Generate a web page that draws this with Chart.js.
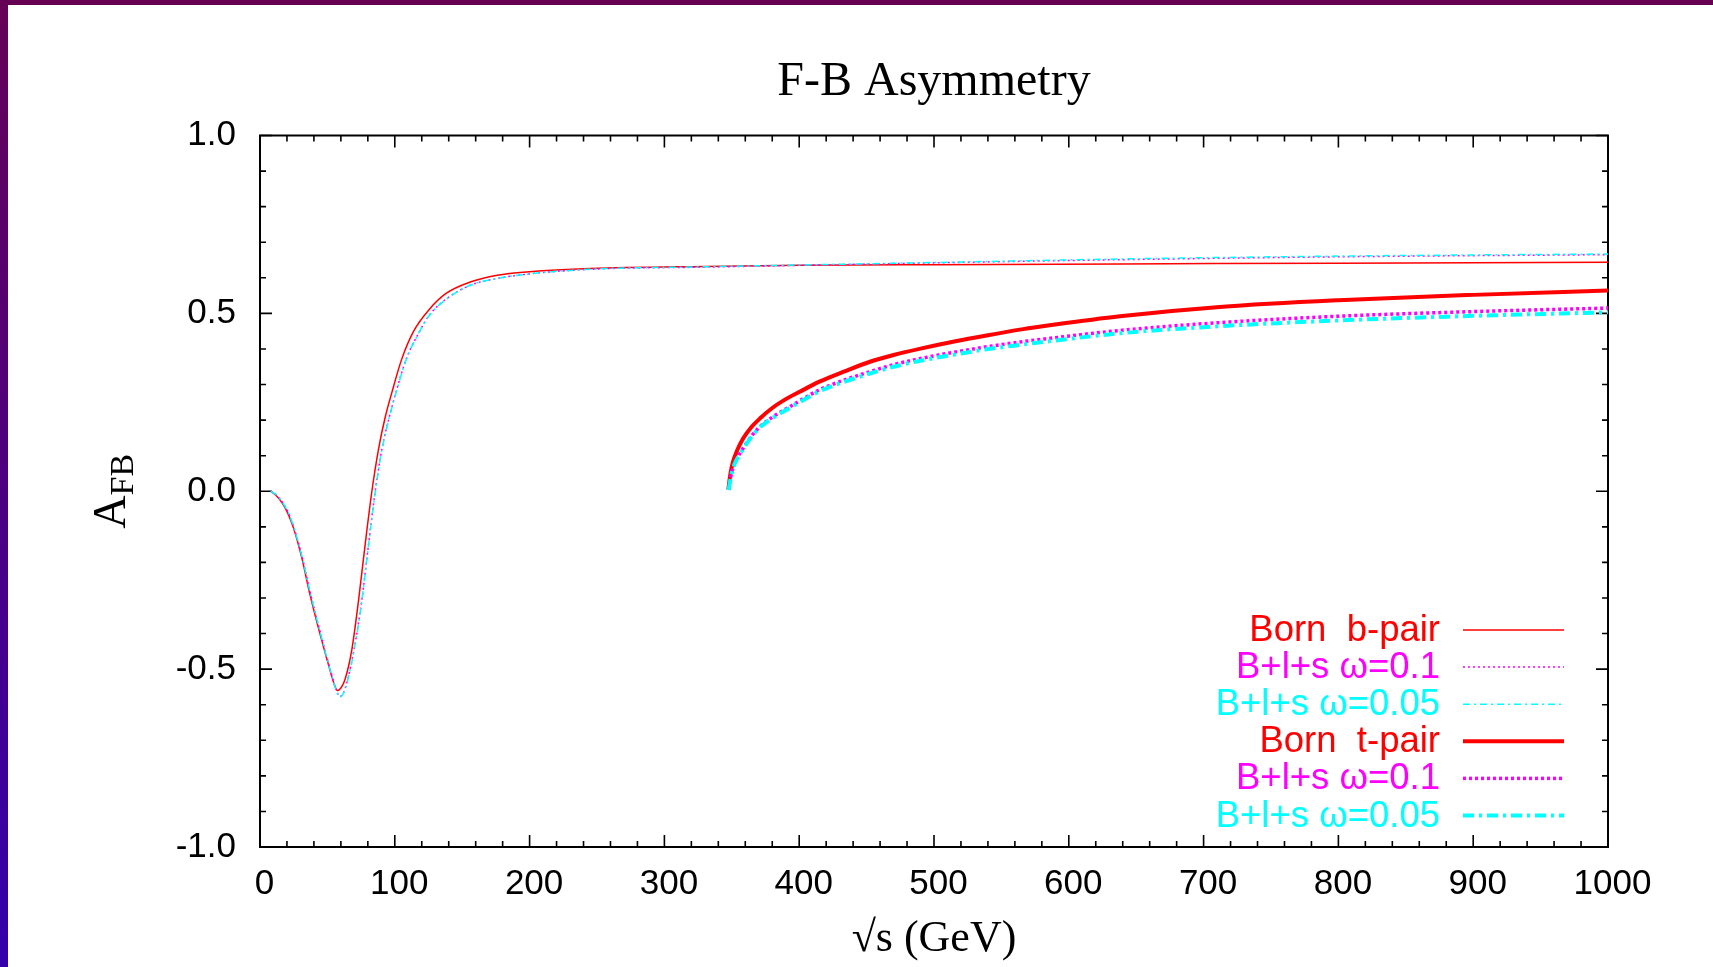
<!DOCTYPE html>
<html>
<head>
<meta charset="utf-8">
<title>F-B Asymmetry</title>
<script src="https://cdn.jsdelivr.net/npm/chart.js@4/dist/chart.umd.min.js"></script>
<style>
  html, body { margin: 0; padding: 0; background: #fff; overflow: hidden; }
  #frameTop { position: absolute; left: 0; top: 0; width: 1713px; height: 5px; background: #650052; }
  #frameLeft { position: absolute; left: 0; top: 0; width: 8px; height: 967px; background: linear-gradient(#650056, #3300aa); }
  #wrap { position: absolute; left: 8px; top: 5px; width: 1705px; height: 962px; background: #fff; }
</style>
</head>
<body>
<div id="frameTop"></div>
<div id="frameLeft"></div>
<div id="wrap"><canvas id="c" width="1705" height="962"></canvas></div>
<script>
// sqrt(s) in GeV and forward-backward asymmetry A_FB for each curve

// b-quark pair, Born level
const bornB_s = [8, 12, 17, 21, 25, 31, 37, 44.5, 52, 55, 57.4, 60, 63, 68, 73, 78, 83, 88, 93, 98,
                 105, 114, 126, 138, 156, 176, 200, 245, 330, 400, 500, 640, 800, 1000];
const bornB_A = [0.000, -0.012, -0.036, -0.065, -0.105, -0.187, -0.289, -0.401, -0.504, -0.542, -0.560,
                 -0.553, -0.530, -0.448, -0.310, -0.150, 0.000, 0.120, 0.210, 0.280, 0.370, 0.450, 0.513,
                 0.556, 0.588, 0.607, 0.617, 0.626, 0.632, 0.635, 0.637, 0.639, 0.641, 0.644];

// b-quark pair, Born + loop + soft photon
const radB_s = [8, 12, 17, 21, 25, 31, 37, 44.5, 52, 56, 59.3, 62, 65, 70, 75.4, 80.5, 85.5, 90.5, 96, 101,
                108.3, 117, 126, 138, 156, 176, 200, 245, 330, 400, 500, 640, 800, 1000];
const radB_w01_A = [0.000, -0.010, -0.033, -0.060, -0.100, -0.180, -0.280, -0.393, -0.500, -0.552, -0.577,
                    -0.565, -0.530, -0.440, -0.310, -0.150, 0.000, 0.120, 0.210, 0.280, 0.370, 0.440, 0.497,
                    0.540, 0.579, 0.598, 0.611, 0.624, 0.630, 0.635, 0.642, 0.651, 0.659, 0.665];
const radB_w005_A = [0.000, -0.010, -0.033, -0.060, -0.100, -0.181, -0.281, -0.394, -0.502, -0.554, -0.579,
                     -0.567, -0.532, -0.442, -0.312, -0.152, -0.002, 0.118, 0.208, 0.278, 0.368, 0.439, 0.496,
                     0.539, 0.579, 0.598, 0.611, 0.624, 0.631, 0.636, 0.643, 0.653, 0.661, 0.667];

// t-quark pair, Born level
const bornT_s = [347.4, 349, 351, 354, 358.5, 364, 371, 380, 391, 403, 415, 433, 452.5, 470, 490, 515,
                 539, 565, 588.5, 638, 712, 800, 900, 1000];
const bornT_A = [0.005, 0.050, 0.084, 0.115, 0.149, 0.178, 0.205, 0.234, 0.261, 0.285, 0.308, 0.336,
                 0.364, 0.383, 0.401, 0.421, 0.438, 0.455, 0.468, 0.492, 0.518, 0.537, 0.552, 0.564];

// t-quark pair, Born + loop + soft photon
const radT_s = [347.6, 349.5, 352, 355, 358.5, 364, 371, 380, 391, 403, 415, 433, 452.5, 470, 490, 515,
                539, 565, 588.5, 638, 712, 800, 900, 1000];
const radT_w01_A = [0.005, 0.045, 0.078, 0.100, 0.121, 0.152, 0.182, 0.208, 0.233, 0.260, 0.285, 0.312,
                    0.336, 0.356, 0.373, 0.391, 0.406, 0.420, 0.431, 0.452, 0.474, 0.492, 0.505, 0.515];
const radT_w005_A = [0.003, 0.043, 0.076, 0.098, 0.119, 0.150, 0.180, 0.205, 0.230, 0.256, 0.281, 0.307,
                     0.331, 0.350, 0.367, 0.384, 0.399, 0.412, 0.423, 0.444, 0.464, 0.480, 0.493, 0.503];

const seriesLabels = ['Born  b-pair', 'B+l+s \u03c9=0.1', 'B+l+s \u03c9=0.05',
                      'Born  t-pair', 'B+l+s \u03c9=0.1', 'B+l+s \u03c9=0.05'];

// axis ranges and tick spacing
const xRange = [0, 1000], xMajor = 100, xMinor = 20;
const yRange = [-1, 1], yMajor = 0.5, yMinor = 0.1;

const RED = '#ff0000', MAGENTA = '#ff00ff', CYAN = '#00ffff';
const SANS = '"Liberation Sans", Arial, Helvetica, sans-serif';
const SERIF = '"Liberation Serif", "Times New Roman", Times, serif';

function series(label, s, a, color, width, dash, order) {
  return {
    label,
    data: s.map((v, i) => ({ x: v, y: a[i] })),
    borderColor: color,
    backgroundColor: color,
    borderWidth: width,
    borderDash: dash,
    pointRadius: 0,
    fill: false,
    cubicInterpolationMode: 'monotone',
    order
  };
}

// Inward ticks on all four sides plus the plot frame
const frameTicks = {
  id: 'frameTicks',
  beforeDatasetsDraw(chart) {
    const { ctx, chartArea: a, scales: { x, y } } = chart;
    ctx.save();
    ctx.strokeStyle = '#000';
    ctx.lineWidth = 1.6;
    ctx.beginPath();
    const nx = Math.round((xRange[1] - xRange[0]) / xMinor);
    for (let i = 0; i <= nx; i++) {
      const v = xRange[0] + i * xMinor;
      const px = x.getPixelForValue(v);
      const len = (i % Math.round(xMajor / xMinor) === 0) ? 12 : 6;
      ctx.moveTo(px, a.bottom); ctx.lineTo(px, a.bottom - len);
      ctx.moveTo(px, a.top); ctx.lineTo(px, a.top + len);
    }
    const ny = Math.round((yRange[1] - yRange[0]) / yMinor);
    for (let i = 0; i <= ny; i++) {
      const v = yRange[0] + i * yMinor;
      const py = y.getPixelForValue(v);
      const len = (i % Math.round(yMajor / yMinor) === 0) ? 12 : 6;
      ctx.moveTo(a.left, py); ctx.lineTo(a.left + len, py);
      ctx.moveTo(a.right, py); ctx.lineTo(a.right - len, py);
    }
    ctx.stroke();
    ctx.lineWidth = 2;
    ctx.strokeRect(a.left, a.top, a.right - a.left, a.bottom - a.top);
    ctx.restore();
  }
};

// Y-axis label A with subscript FB, rotated
const yAxisLabel = {
  id: 'yAxisLabel',
  afterDraw(chart) {
    const { ctx, chartArea: a } = chart;
    const cy = (a.top + a.bottom) / 2;
    const cx = 117;
    ctx.save();
    ctx.translate(cx, cy);
    ctx.rotate(-Math.PI / 2);
    ctx.fillStyle = '#000';
    ctx.textBaseline = 'alphabetic';
    ctx.textAlign = 'left';
    const fA = '46px ' + SERIF, fS = '34px ' + SERIF;
    ctx.font = fA; const wA = ctx.measureText('A').width;
    ctx.font = fS; const wS = ctx.measureText('FB').width;
    const x0 = -(wA + wS) / 2;
    ctx.font = fA; ctx.fillText('A', x0, 0);
    ctx.font = fS; ctx.fillText('FB', x0 + wA, 8);
    ctx.restore();
  }
};

// Key in the lower right: text right-aligned, line sample after it
const keyBox = {
  id: 'keyBox',
  afterDraw(chart) {
    const { ctx } = chart;
    const textRight = 1432, lineX0 = 1455, lineX1 = 1556, row0 = 625, rowStep = 37.1;
    ctx.save();
    ctx.font = '36.5px ' + SANS;
    ctx.textAlign = 'right';
    ctx.textBaseline = 'middle';
    chart.data.datasets.forEach((ds, i) => {
      const yy = row0 + i * rowStep;
      ctx.fillStyle = ds.borderColor;
      ctx.fillText(ds.label, textRight, yy + 1);
      ctx.strokeStyle = ds.borderColor;
      ctx.lineWidth = ds.borderWidth;
      ctx.setLineDash(ds.borderDash || []);
      ctx.beginPath();
      ctx.moveTo(lineX0, yy);
      ctx.lineTo(lineX1, yy);
      ctx.stroke();
    });
    ctx.restore();
  }
};

new Chart(document.getElementById('c'), {
  type: 'line',
  data: {
    datasets: [
      series(seriesLabels[0], bornB_s, bornB_A, RED, 1.5, [], 6),
      series(seriesLabels[1], radB_s, radB_w01_A, MAGENTA, 1.5, [2, 3], 5),
      series(seriesLabels[2], radB_s, radB_w005_A, CYAN, 1.5, [7, 4, 2, 4], 4),
      series(seriesLabels[3], bornT_s, bornT_A, RED, 4, [], 3),
      series(seriesLabels[4], radT_s, radT_w01_A, MAGENTA, 3.5, [3, 3], 2),
      series(seriesLabels[5], radT_s, radT_w005_A, CYAN, 4, [11, 5, 3, 5], 1)
    ]
  },
  options: {
    responsive: false,
    animation: false,
    events: [],
    layout: { padding: { left: 0, right: 105, top: 0, bottom: 0 } },
    plugins: {
      legend: { display: false },
      tooltip: { enabled: false },
      title: {
        display: true,
        text: 'F-B Asymmetry',
        fullSize: false,
        color: '#000',
        font: { family: SERIF, size: 48, weight: 'normal', lineHeight: 1.2 },
        padding: { top: 48.3, bottom: 24.6 }
      }
    },
    scales: {
      x: {
        type: 'linear',
        min: xRange[0],
        max: xRange[1],
        grid: { display: false, drawTicks: false },
        border: { display: false },
        ticks: {
          stepSize: xMajor,
          autoSkip: false,
          maxRotation: 0,
          color: '#000',
          padding: 16,
          labelOffset: 4.5,
          font: { family: SANS, size: 35 },
          callback: v => String(v)
        },
        title: {
          display: true,
          text: '\u221as (GeV)',
          color: '#000',
          font: { family: SERIF, size: 44, weight: 'normal', lineHeight: 1.2 },
          padding: { top: 0, bottom: 1 }
        },
        afterFit(scale) { scale.height = 120; }
      },
      y: {
        type: 'linear',
        min: yRange[0],
        max: yRange[1],
        grid: { display: false, drawTicks: false },
        border: { display: false },
        ticks: {
          stepSize: yMajor,
          color: '#000',
          padding: 24,
          font: { family: SANS, size: 35 },
          callback: v => Number(v).toFixed(1)
        },
        afterFit(scale) { scale.width = 252; }
      }
    }
  },
  plugins: [frameTicks, yAxisLabel, keyBox]
});
</script>
</body>
</html>
